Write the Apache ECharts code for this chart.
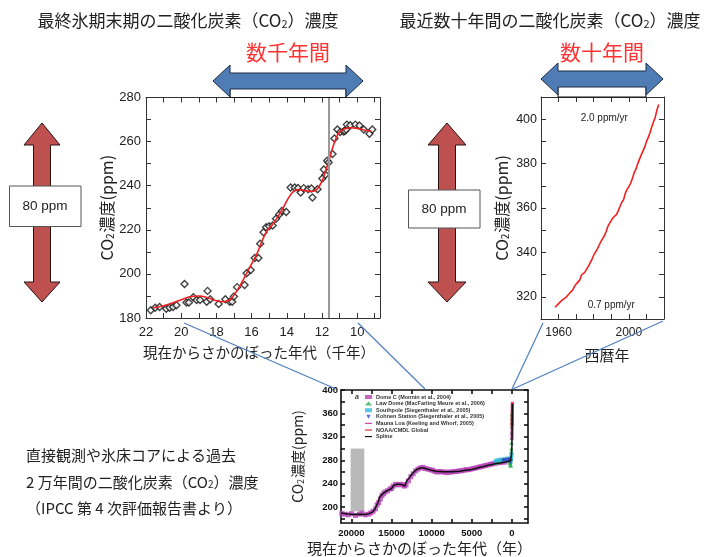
<!DOCTYPE html>
<html>
<head>
<meta charset="utf-8">
<script src="https://cdn.jsdelivr.net/npm/echarts@6/dist/echarts.min.js"></script>
<style>
  html, body { margin: 0; padding: 0; background: #fff; }
  #chart { width: 714px; height: 557px; }
</style>
</head>
<body>
<div id="chart"></div>
<script>
// ---------- Last glacial termination (Dome C): age in kyr BP, CO2 in ppm ----------
const deglacAge = [21.73, 21.48, 21.23, 20.85, 20.66, 20.46, 20.27, 19.81, 19.70, 19.56,
  19.31, 19.12, 18.93, 18.55, 18.50, 18.35, 17.87, 17.49, 17.24, 17.10,
  17.00, 16.82, 16.40, 16.28, 16.05, 15.82, 15.61, 15.51, 15.32, 15.17,
  15.00, 14.80, 14.61, 14.42, 14.28, 14.03, 13.78, 13.55, 13.36, 13.21,
  13.04, 12.79, 12.60, 12.54, 12.25, 11.98, 11.89, 11.80, 11.70, 11.62,
  11.40, 11.29, 11.12, 10.96, 10.77, 10.70, 10.62, 10.58, 10.39, 10.10,
  9.87, 9.62, 9.30, 9.14];
const deglacCO2 = [183.5, 184.7, 185.0, 184.2, 184.7, 185.0, 185.8, 195.4, 187.0, 187.0,
  189.4, 188.2, 188.2, 187.4, 192.3, 188.5, 186.4, 188.5, 187.4, 187.4,
  189.7, 194.0, 195.0, 200.3, 201.8, 207.2, 207.2, 213.7, 218.9, 221.2,
  221.6, 222.0, 225.0, 227.0, 228.5, 228.1, 239.2, 239.2, 239.0, 236.9,
  238.9, 238.4, 238.7, 234.6, 238.4, 243.3, 247.3, 245.0, 251.3, 250.5,
  254.4, 261.4, 265.5, 264.4, 264.6, 264.8, 265.5, 267.7, 267.4, 267.7,
  267.3, 265.5, 263.6, 265.5];
// smoothed fit through the ice-core points
const deglacFitAge = [21.6, 21.0, 20.5, 20.0, 19.5, 19.0, 18.5, 18.0, 17.6, 17.2,
  16.9, 16.6, 16.3, 16.0, 15.7, 15.4, 15.1, 14.8, 14.5, 14.2,
  13.9, 13.6, 13.3, 13.0, 12.6, 12.3, 12.0, 11.8, 11.6, 11.4,
  11.2, 11.0, 10.7, 10.4, 10.0, 9.6, 9.2];
const deglacFitCO2 = [184.5, 185.6, 186.8, 188.3, 189.6, 190.0, 189.2, 187.8, 187.4, 188.5,
  191.5, 195.5, 200.0, 204.5, 209.0, 215.0, 219.8, 222.5, 226.0, 230.0,
  234.5, 237.5, 238.2, 237.8, 237.4, 238.2, 242.0, 246.5, 251.5, 257.0,
  261.5, 264.3, 265.8, 266.3, 266.0, 265.3, 264.8];
const deglacTickAges = [9, 10, 11, 12, 13, 14, 15, 16, 17, 18, 19, 20, 21, 22];
const deglacLabelAges = [10, 12, 14, 16, 18, 20, 22];
const holoceneOnsetKyr = 11.6;

// ---------- Mauna Loa annual means ----------
const mlYears = [1958, 1959, 1960, 1961, 1962, 1963, 1964, 1965, 1966, 1967,
  1968, 1969, 1970, 1971, 1972, 1973, 1974, 1975, 1976, 1977,
  1978, 1979, 1980, 1981, 1982, 1983, 1984, 1985, 1986, 1987,
  1988, 1989, 1990, 1991, 1992, 1993, 1994, 1995, 1996, 1997,
  1998, 1999, 2000, 2001, 2002, 2003, 2004, 2005, 2006, 2007,
  2008, 2009, 2010, 2011, 2012, 2013, 2014, 2015, 2016, 2017];
const mlCO2 = [315.3, 316.0, 316.9, 317.6, 318.5, 319.0, 319.6, 320.0, 321.4, 322.2,
  323.0, 324.6, 325.7, 326.3, 327.5, 329.7, 330.2, 331.1, 332.0, 333.8,
  335.4, 336.8, 338.8, 340.1, 341.5, 343.1, 344.7, 346.1, 347.4, 349.2,
  351.6, 353.1, 354.4, 355.6, 356.5, 357.1, 358.8, 360.8, 362.6, 363.7,
  366.7, 368.4, 369.6, 371.1, 373.3, 375.8, 377.5, 379.8, 381.9, 383.8,
  385.6, 387.4, 389.9, 391.7, 393.9, 396.5, 398.7, 400.8, 404.2, 406.6];
const mlRateLabels = ['2.0 ppm/yr', '0.7 ppm/yr'];

// ---------- 20,000-year composite (age in years BP) ----------
const domeCAge = [21200, 20800, 20400, 20000, 19500, 19000, 18700, 18300, 17900, 17600,
  17300, 17000, 16800, 16600, 16400, 16200, 16000, 15800, 15500, 15200,
  15000, 14800, 14500, 14200, 13900, 13600, 13400, 13200, 12900, 12600,
  12300, 12000, 11700, 11400, 11100, 10800, 10500, 10200, 9900, 9600,
  9300, 9000, 8700, 8400, 8100, 7800, 7500, 7200, 6900, 6600,
  6300, 6000, 5700, 5400, 5100, 4800, 4500, 4200, 3900, 3600,
  3300, 3000, 2700, 2400, 2100, 1800, 1500, 1200, 900];
const domeCCO2 = [189, 188, 187, 189, 186, 188, 190, 187, 188, 190,
  193, 197, 204, 208, 214, 220, 223, 226, 228, 231,
  232, 236, 239, 238, 239, 238, 236, 238, 245, 252,
  257, 262, 265, 267, 268, 266, 265, 264, 263, 261,
  260, 261, 260, 260, 259, 260, 260, 261, 261, 262,
  262, 263, 264, 264, 265, 266, 267, 268, 269, 270,
  271, 272, 273, 274, 275, 276, 276, 277, 277];
const lawDomeAge = [2000, 1850, 1700, 1550, 1400, 1250, 1100, 950, 800, 650,
  500, 380, 300, 250, 200, 180, 160, 150, 120, 90,
  70, 60, 50, 40, 30, 20, 15, 10, 5, 0];
const lawDomeCO2 = [276, 277, 278, 279, 280, 280, 281, 280, 281, 282,
  281, 280, 278, 276, 275, 272, 271, 278, 283, 288,
  295, 300, 310, 318, 328, 338, 345, 352, 358, 360];
const southPoleAge = [2000, 1800, 1500, 1200, 900, 600, 300, 150, 100, 60];
const southPoleCO2 = [279, 280, 281, 281, 282, 283, 282, 281, 284, 290];
const kohnenAge = [1100, 900, 700, 500, 350, 250, 150];
const kohnenCO2 = [279, 280, 279, 280, 281, 279, 277];
const noaaAge = [-30, -35, -40, -45, -50, -55];
const noaaCO2 = [338.5, 345.5, 353.5, 360.0, 368.5, 378.0];
const splineAge = [21300, 20500, 19800, 19000, 18300, 17800, 17400, 17100, 16700, 16450,
  16100, 15700, 15300, 15000, 14750, 14400, 14000, 13700, 13350, 13150,
  12800, 12500, 12150, 11850, 11500, 11200, 10800, 10400, 10000, 9500,
  9000, 8500, 8000, 7500, 7000, 6500, 6000, 5500, 5000, 4500,
  4000, 3500, 3000, 2500, 2000, 1500, 1000, 500, 200, 100,
  50, 0, -20, -40, -55];
const splineCO2 = [190, 188.5, 187.5, 188, 187.5, 189, 191.5, 196, 208, 218,
  223, 227, 230, 231.5, 237, 239, 239, 238.5, 236, 244,
  250, 256, 261, 264.5, 266.5, 267.5, 266, 264.5, 263, 261.5,
  261, 260.5, 260.5, 260.5, 261, 261.5, 262.5, 263.5, 264.5, 266,
  268, 269.5, 271.5, 273, 274.5, 275.5, 276.5, 278, 279, 282,
  290, 305, 330, 355, 376];
const compositeTickAges = [0, 2500, 5000, 7500, 10000, 12500, 15000, 17500, 20000];
const compositeLabelAges = [0, 5000, 10000, 15000, 20000];
const compositeTickCO2 = [180, 200, 220, 240, 260, 280, 300, 320, 340, 360, 380, 400];
const compositeLabelCO2 = [200, 240, 280, 320, 360, 400];
const lgmBox = { ageFrom: 20100, ageTo: 18400, co2From: 193, co2To: 300 };

const seriesNames = [
  'Dome C (Monnin et al., 2004)',
  'Law Dome (MacFarling Meure et al., 2006)',
  'Southpole (Siegenthaler et al., 2005)',
  'Kohnen Station (Siegenthaler et al., 2005)',
  'Mauna Loa (Keeling and Whorf, 2005)',
  'NOAA/CMDL Global',
  'Spline'
];

const zip = (a, b) => a.map((v, i) => [v, b[i]]);
// Mauna Loa in years before 1950, used on the 20,000-year panel
const mlBP = mlYears.filter(y => y <= 2005).map((y, i) => [1950 - y, mlCO2[i]]);

const JP = '"Noto Sans CJK JP", "Noto Sans", sans-serif';
const LAT = '"Liberation Sans", Arial, sans-serif';
const INK = '#222';
const LINE_ICON = 'path://M0,0 L24,0 L24,4 L0,4 Z';

const co2Name = (size) => ({
  a: { fontSize: size, fontFamily: JP, color: INK },
  s: { fontSize: Math.round(size * 0.62), fontFamily: JP, color: INK, verticalAlign: 'bottom', padding: [0, 1, 0, 0] }
});

function frameAxes(grid, base, extra) {
  return Object.assign({
    gridIndex: grid, type: 'value', splitLine: { show: false },
    axisLine: { onZero: false, lineStyle: { color: '#333', width: 1 } }
  }, base, extra);
}

const chart = echarts.init(document.getElementById('chart'), null, { renderer: 'canvas' });

const leftX = { inverse: true, min: 8.7, max: 22,
  axisTick: { inside: true, length: 5, customValues: deglacTickAges, lineStyle: { color: '#333' } } };
const leftY = { min: 180, max: 280, interval: 10,
  axisTick: { inside: true, length: 5, lineStyle: { color: '#333' } } };
const rightX = { min: 1950, max: 2020, interval: 10,
  axisTick: { inside: true, length: 5, lineStyle: { color: '#333' } } };
const rightY = { min: 310, max: 410, interval: 10,
  axisTick: { inside: true, length: 5, lineStyle: { color: '#333' } } };
const botX = { inverse: true, min: -2000, max: 21300,
  axisLine: { onZero: false, lineStyle: { color: '#111', width: 1.6 } },
  axisTick: { inside: true, length: 4, customValues: compositeTickAges, lineStyle: { color: '#111', width: 1.6 } } };
const botY = { min: 173, max: 400,
  axisLine: { onZero: false, lineStyle: { color: '#111', width: 1.6 } },
  axisTick: { inside: true, length: 4, customValues: compositeTickCO2, lineStyle: { color: '#111', width: 1.6 } } };

const noLabel = { axisLabel: { show: false } };

const option = {
  animation: false,
  backgroundColor: '#fff',
  grid: [
    { left: 146, top: 97.5, width: 234, height: 220.5 },
    { left: 541, top: 97, width: 123, height: 222 },
    { left: 341, top: 390, width: 187, height: 133 }
  ],
  xAxis: [
    frameAxes(0, leftX, {
      position: 'bottom',
      axisLabel: { customValues: deglacLabelAges, fontSize: 13, fontFamily: LAT, color: INK, margin: 8 },
      name: '現在からさかのぼった年代（千年）', nameLocation: 'middle', nameGap: 27,
      nameTextStyle: { fontSize: 14.5, fontFamily: JP, color: INK, padding: [0, 8, 0, 0] }
    }),
    frameAxes(0, leftX, Object.assign({ position: 'top' }, noLabel)),
    frameAxes(1, rightX, {
      position: 'bottom',
      axisLabel: { fontSize: 12, fontFamily: LAT, color: INK, margin: 8,
        formatter: v => (v === 1960 || v === 2000) ? String(v) : '' },
      name: '西暦年', nameLocation: 'middle', nameGap: 29,
      nameTextStyle: { fontSize: 15, fontFamily: JP, color: INK, padding: [0, 0, 0, 9] }
    }),
    frameAxes(1, rightX, Object.assign({ position: 'top' }, noLabel)),
    frameAxes(2, botX, {
      position: 'bottom',
      axisLabel: { customValues: compositeLabelAges, formatter: v => String(v),
        fontSize: 9.5, fontWeight: 'bold', fontFamily: LAT, color: '#111', margin: 5 }
    }),
    frameAxes(2, botX, Object.assign({ position: 'top' }, noLabel))
  ],
  yAxis: [
    frameAxes(0, leftY, {
      position: 'left',
      axisLabel: { fontSize: 13, fontFamily: LAT, color: INK, margin: 5,
        formatter: v => v % 20 === 0 ? String(v) : '' },
      name: '{a|CO}{s|2}{a|濃度(ppm)}', nameLocation: 'middle', nameGap: 31,
      nameTextStyle: { rich: co2Name(16) }
    }),
    frameAxes(0, leftY, Object.assign({ position: 'right' }, noLabel)),
    frameAxes(1, rightY, {
      position: 'left',
      axisLabel: { fontSize: 12.5, fontFamily: LAT, color: INK, margin: 4,
        formatter: v => v % 20 === 0 ? String(v) : '' },
      name: '{a|CO}{s|2}{a|濃度(ppm)}', nameLocation: 'middle', nameGap: 31,
      nameTextStyle: { rich: co2Name(16) }
    }),
    frameAxes(1, rightY, Object.assign({ position: 'right' }, noLabel)),
    frameAxes(2, botY, {
      position: 'left',
      axisLabel: { customValues: compositeLabelCO2, formatter: v => String(v),
        fontSize: 9.5, fontWeight: 'bold', fontFamily: LAT, color: '#111', margin: 3 },
      name: '{a|CO}{s|2}{a|濃度(ppm)}', nameLocation: 'middle', nameGap: 36,
      nameTextStyle: { rich: co2Name(14) }
    }),
    frameAxes(2, botY, Object.assign({ position: 'right' }, noLabel))
  ],
  legend: {
    orient: 'vertical', left: 365, top: 394,
    itemWidth: 7, itemHeight: 4, itemGap: 0.6,
    padding: 0,
    selectedMode: false,
    textStyle: { fontSize: 5.5, lineHeight: 6, fontWeight: 'bold', color: '#333', fontFamily: LAT, padding: [0, 0, 0, -1] },
    data: [
      { name: seriesNames[0], icon: 'rect' },
      { name: seriesNames[1], icon: 'triangle' },
      { name: seriesNames[2], icon: 'rect' },
      { name: seriesNames[3], icon: 'path://M0,0 L10,0 L5,9 Z' },
      { name: seriesNames[4], icon: LINE_ICON },
      { name: seriesNames[5], icon: LINE_ICON },
      { name: seriesNames[6], icon: LINE_ICON }
    ]
  },
  series: [
    {
      type: 'scatter', xAxisIndex: 0, yAxisIndex: 0,
      data: zip(deglacAge, deglacCO2),
      symbol: 'diamond', symbolSize: 7,
      itemStyle: { color: '#fff', borderColor: '#111', borderWidth: 1.4 },
      z: 3,
      markLine: {
        silent: true, symbol: 'none', label: { show: false },
        lineStyle: { color: '#999', width: 2, type: 'solid' },
        data: [{ xAxis: holoceneOnsetKyr }]
      }
    },
    {
      type: 'line', xAxisIndex: 0, yAxisIndex: 0,
      data: zip(deglacFitAge, deglacFitCO2),
      smooth: 0.35, showSymbol: false, symbol: 'none',
      lineStyle: { color: '#f02020', width: 1.6 }, z: 4
    },
    {
      type: 'line', xAxisIndex: 2, yAxisIndex: 2,
      data: zip(mlYears, mlCO2),
      showSymbol: false, symbol: 'none',
      lineStyle: { color: '#f02020', width: 1.6 },
      markPoint: {
        silent: true, symbol: 'rect', symbolSize: 0,
        label: { show: true, fontSize: 10, fontFamily: LAT, color: INK, formatter: p => p.name },
        data: [
          { name: mlRateLabels[0], coord: [1986, 400.5] },
          { name: mlRateLabels[1], coord: [1990, 316] }
        ]
      }
    },
    {
      name: seriesNames[0], type: 'scatter', xAxisIndex: 4, yAxisIndex: 4,
      data: zip(domeCAge, domeCCO2), symbol: 'rect', symbolSize: 5,
      itemStyle: { color: '#b540b5' }, z: 2,
      markArea: {
        silent: true,
        itemStyle: { color: '#b9b9b9' },
        data: [[{ xAxis: lgmBox.ageFrom, yAxis: lgmBox.co2From }, { xAxis: lgmBox.ageTo, yAxis: lgmBox.co2To }]]
      }
    },
    {
      name: seriesNames[1], type: 'scatter', xAxisIndex: 4, yAxisIndex: 4,
      data: zip(lawDomeAge, lawDomeCO2), symbol: 'triangle', symbolSize: 4.5,
      itemStyle: { color: '#2fae55' }, z: 3
    },
    {
      name: seriesNames[2], type: 'scatter', xAxisIndex: 4, yAxisIndex: 4,
      data: zip(southPoleAge, southPoleCO2), symbol: 'rect', symbolSize: 4,
      itemStyle: { color: '#33b9dc' }, z: 3
    },
    {
      name: seriesNames[3], type: 'scatter', xAxisIndex: 4, yAxisIndex: 4,
      data: zip(kohnenAge, kohnenCO2), symbol: 'triangle', symbolRotate: 180, symbolSize: 4.5,
      itemStyle: { color: '#3a4bc2' }, z: 3
    },
    {
      name: seriesNames[4], type: 'line', xAxisIndex: 4, yAxisIndex: 4,
      data: mlBP, symbol: 'none', showSymbol: false,
      lineStyle: { color: '#e040a8', width: 3 }, itemStyle: { color: '#e040a8' }, z: 4
    },
    {
      name: seriesNames[5], type: 'line', xAxisIndex: 4, yAxisIndex: 4,
      data: zip(noaaAge, noaaCO2), symbol: 'none', showSymbol: false,
      lineStyle: { color: '#e02828', width: 3 }, itemStyle: { color: '#e02828' }, z: 5
    },
    {
      name: seriesNames[6], type: 'line', xAxisIndex: 4, yAxisIndex: 4,
      data: zip(splineAge, splineCO2), symbol: 'none', showSymbol: false,
      lineStyle: { color: '#111', width: 1.5 }, itemStyle: { color: '#111' }, z: 6
    }
  ],
  graphic: [
    // connector lines from the two detail panels down to the composite panel
    { type: 'line', shape: { x1: 184, y1: 323, x2: 336, y2: 389 }, style: { stroke: '#4f7fbf', lineWidth: 1.2 }, z: 1 },
    { type: 'line', shape: { x1: 358, y1: 323, x2: 425, y2: 389 }, style: { stroke: '#4f7fbf', lineWidth: 1.2 }, z: 1 },
    { type: 'line', shape: { x1: 543, y1: 323, x2: 512, y2: 389 }, style: { stroke: '#4f7fbf', lineWidth: 1.2 }, z: 1 },
    { type: 'line', shape: { x1: 663, y1: 321, x2: 513, y2: 389 }, style: { stroke: '#4f7fbf', lineWidth: 1.2 }, z: 1 },

    // panel titles
    { type: 'text', x: 188, y: 21, style: { text: '最終氷期末期の二酸化炭素（CO{s|2}）濃度', fontSize: 17, fontFamily: JP, fill: INK,
      align: 'center', verticalAlign: 'middle',
      rich: { s: { fontSize: 11, fontFamily: JP, fill: INK, verticalAlign: 'bottom' } } } },
    { type: 'text', x: 550, y: 21, style: { text: '最近数十年間の二酸化炭素（CO{s|2}）濃度', fontSize: 17, fontFamily: JP, fill: INK,
      align: 'center', verticalAlign: 'middle',
      rich: { s: { fontSize: 11, fontFamily: JP, fill: INK, verticalAlign: 'bottom' } } } },

    // time-span captions
    { type: 'text', x: 288, y: 52, style: { text: '数千年間', fontSize: 21, fontFamily: JP, fill: '#ff3333', align: 'center', verticalAlign: 'middle' } },
    { type: 'text', x: 602, y: 52, style: { text: '数十年間', fontSize: 21, fontFamily: JP, fill: '#ff3333', align: 'center', verticalAlign: 'middle' } },

    // span boxes under the horizontal arrows
    { type: 'rect', shape: { x: 230, y: 84, width: 116, height: 13.5 }, style: { fill: '#fff', stroke: '#111', lineWidth: 1 }, z: 10 },
    { type: 'rect', shape: { x: 558, y: 82, width: 88, height: 15 }, style: { fill: '#fff', stroke: '#111', lineWidth: 1 }, z: 10 },

    // horizontal double arrows
    { type: 'polygon', z: 11, shape: { points: [[213, 81], [230, 65], [230, 73], [346, 73], [346, 65], [363, 81], [346, 97], [346, 89], [230, 89], [230, 97]] },
      style: { fill: '#4f7cb5', stroke: '#1c2c44', lineWidth: 1 } },
    { type: 'polygon', z: 11, shape: { points: [[541, 79], [558, 63], [558, 71], [646, 71], [646, 63], [663, 79], [646, 95], [646, 87], [558, 87], [558, 95]] },
      style: { fill: '#4f7cb5', stroke: '#1c2c44', lineWidth: 1 } },

    // vertical double arrows (80 ppm scale bars)
    { type: 'polygon', shape: { points: [[42, 123], [60, 145], [50.5, 145], [50.5, 282], [60, 282], [42, 302], [24, 282], [33.5, 282], [33.5, 145], [24, 145]] },
      style: { fill: '#bf5050', stroke: '#2a1212', lineWidth: 1 } },
    { type: 'polygon', shape: { points: [[447, 123], [466, 145], [455.5, 145], [455.5, 282], [466, 282], [447, 302], [428, 282], [438.5, 282], [438.5, 145], [428, 145]] },
      style: { fill: '#bf5050', stroke: '#2a1212', lineWidth: 1 } },
    { type: 'rect', shape: { x: 9.5, y: 186, width: 71.5, height: 40.5 }, style: { fill: '#fff', stroke: '#555', lineWidth: 1 } },
    { type: 'text', x: 45, y: 206.5, style: { text: '80 ppm', fontSize: 13.5, fontFamily: LAT, fill: INK, align: 'center', verticalAlign: 'middle' } },
    { type: 'rect', shape: { x: 408.5, y: 190, width: 71.5, height: 38 }, style: { fill: '#fff', stroke: '#555', lineWidth: 1 } },
    { type: 'text', x: 444, y: 209.5, style: { text: '80 ppm', fontSize: 13.5, fontFamily: LAT, fill: INK, align: 'center', verticalAlign: 'middle' } },

    // composite panel: panel letter and axis title
    { type: 'text', x: 357, y: 397, style: { text: 'a', fontSize: 7, fontStyle: 'italic', fontWeight: 'bold', fontFamily: LAT, fill: '#333', align: 'center', verticalAlign: 'middle' } },
    { type: 'text', x: 307, y: 548, style: { text: '現在からさかのぼった年代（年）', fontSize: 15, fontFamily: JP, fill: INK, align: 'left', verticalAlign: 'middle' } },

    // caption
    { type: 'text', x: 26, y: 455, style: { text: '直接観測や氷床コアによる過去', fontSize: 15, fontFamily: JP, fill: INK, verticalAlign: 'middle' } },
    { type: 'text', x: 26, y: 482, style: { text: '2 万年間の二酸化炭素（CO{s|2}）濃度', fontSize: 15, fontFamily: JP, fill: INK, verticalAlign: 'middle',
      rich: { s: { fontSize: 10, fontFamily: JP, fill: INK, verticalAlign: 'bottom' } } } },
    { type: 'text', x: 26, y: 508, style: { text: '（IPCC 第 4 次評価報告書より）', fontSize: 15, fontFamily: JP, fill: INK, verticalAlign: 'middle' } }
  ]
};

chart.setOption(option);
</script>
</body>
</html>
